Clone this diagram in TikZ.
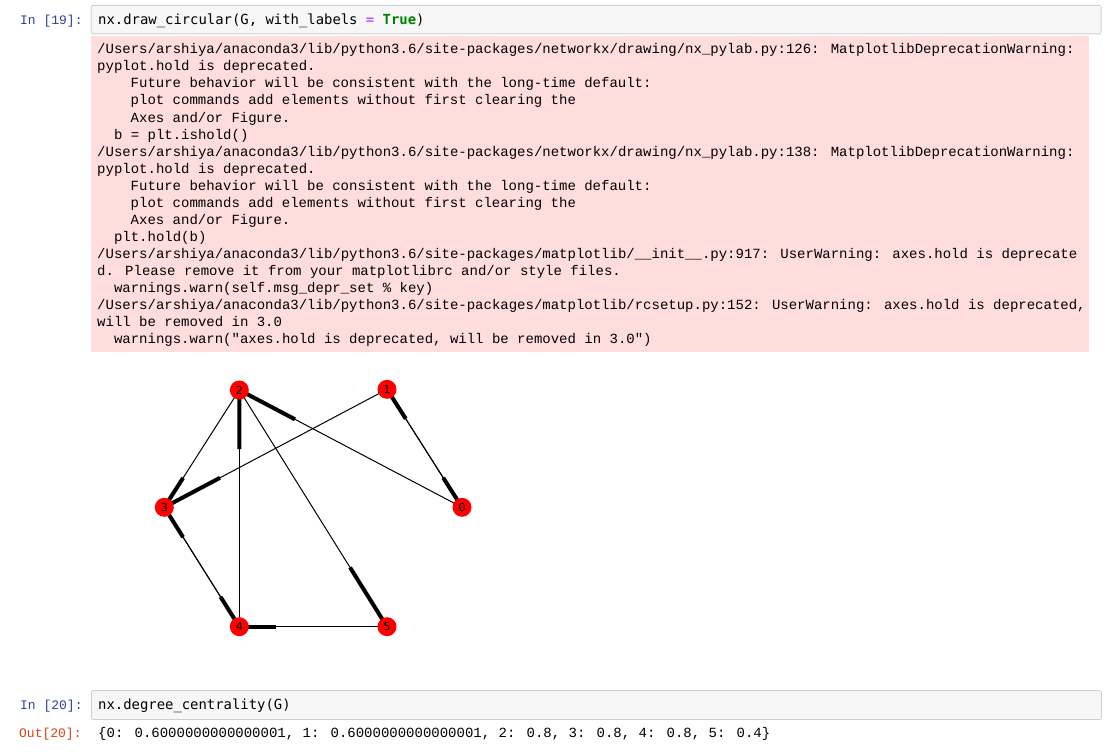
\documentclass[tikz,border=0pt]{standalone}
\usepackage{fontspec}
\newfontfamily\courfont{Liberation Mono}
\newfontfamily\codefont{DejaVu Sans Mono}
\newfontfamily\labfont{DejaVu Sans}
\usetikzlibrary{calc}
\pgfdeclarelayer{backdrop}
\pgfdeclarelayer{bg}
\pgfsetlayers{backdrop,bg,main}
\definecolor{errpink}{HTML}{FFDDDD}
\definecolor{cellfill}{HTML}{F7F7F7}
\definecolor{cellborder}{HTML}{CFCFCF}
\definecolor{inprompt}{HTML}{303F9F}
\definecolor{outprompt}{HTML}{D84315}
\definecolor{kwgreen}{HTML}{008000}
\definecolor{oppurple}{HTML}{AA22FF}
\definecolor{nodered}{HTML}{FF0000}
\tikzset{
  errline/.style={anchor=base west, inner sep=0, font=\courfont\fontsize{14bp}{17bp}\selectfont},
  inprm/.style={anchor=base west, inner sep=0, text=inprompt, font=\courfont\fontsize{13bp}{16bp}\selectfont},
  outprm/.style={anchor=base west, inner sep=0, text=outprompt, font=\courfont\fontsize{13bp}{16bp}\selectfont},
  codetext/.style={anchor=base west, inner sep=0, font=\codefont\fontsize{13.9bp}{17bp}\selectfont},
  cellbox/.style={draw=cellborder, fill=cellfill, line width=0.8bp, rounded corners=2bp, anchor=north west, inner sep=0},
  errbox/.style={fill=errpink, anchor=north west, inner sep=0},
  gnode/.style={circle, fill=nodered, inner sep=0, minimum size=19bp, font=\labfont\fontsize{11bp}{13bp}\selectfont},
  thinedge/.style={line width=1bp, black},
  headedge/.style={line width=4bp, black}
}
\begin{document}
\begin{tikzpicture}[x=1bp,y=-1bp]
\begin{pgfonlayer}{backdrop}
\fill[white] (0,0) rectangle (1119,755);
\end{pgfonlayer}
\useasboundingbox (0,0) rectangle (1119,755);

% cell 19
\node[inprm] (p19) at (20,25) {In [19]:};
\node[cellbox, minimum width=1010bp, minimum height=28.5bp] (in19) at (90.7,5) {};
\node[codetext] (code19) at (98,25) {nx.draw\_circular(G, with\_labels {\color{oppurple}=} {\color{kwgreen}\bfseries True})};

% stderr output
\node[errbox, minimum width=997.7bp, minimum height=316bp] (err) at (90.7,36) {};
\node[errline] (l1) at (97,54) {/Users/arshiya/anaconda3/lib/python3.6/site-packages/networkx/drawing/nx\_pylab.py:126: MatplotlibDeprecationWarning:};
\node[errline] (l2) at (97,71) {pyplot.hold is deprecated.};
\node[errline] (l3) at (130.5,88) {Future behavior will be consistent with the long-time default:};
\node[errline] (l4) at (130.5,105) {plot commands add elements without first clearing the};
\node[errline] (l5) at (130.5,122) {Axes and/or Figure.};
\node[errline] (l6) at (113.8,139) {b = plt.ishold()};
\node[errline] (l7) at (97,156) {/Users/arshiya/anaconda3/lib/python3.6/site-packages/networkx/drawing/nx\_pylab.py:138: MatplotlibDeprecationWarning:};
\node[errline] (l8) at (97,173) {pyplot.hold is deprecated.};
\node[errline] (l9) at (130.5,190) {Future behavior will be consistent with the long-time default:};
\node[errline] (l10) at (130.5,207) {plot commands add elements without first clearing the};
\node[errline] (l11) at (130.5,224) {Axes and/or Figure.};
\node[errline] (l12) at (113.8,241) {plt.hold(b)};
\node[errline] (l13) at (97,258) {/Users/arshiya/anaconda3/lib/python3.6/site-packages/matplotlib/\_\_init\_\_.py:917: UserWarning: axes.hold is deprecate};
\node[errline] (l14) at (97,275) {d. Please remove it from your matplotlibrc and/or style files.};
\node[errline] (l15) at (113.8,292) {warnings.warn(self.msg\_depr\_set \% key)};
\node[errline] (l16) at (97,309) {/Users/arshiya/anaconda3/lib/python3.6/site-packages/matplotlib/rcsetup.py:152: UserWarning: axes.hold is deprecated,};
\node[errline] (l17) at (97,326) {will be removed in 3.0};
\node[errline] (l18) at (113.8,343) {warnings.warn("axes.hold is deprecated, will be removed in 3.0")};

% graph
\node[gnode] (n0) at (462,507.3) {0};
\node[gnode] (n1) at (387,389.3) {1};
\node[gnode] (n2) at (239.3,390) {2};
\node[gnode] (n3) at (164.3,507.3) {3};
\node[gnode] (n4) at (239.3,626.7) {4};
\node[gnode] (n5) at (387,626.7) {5};
\begin{pgfonlayer}{bg}
\foreach \s/\t in {0/2,4/2,2/3,1/3,0/1,1/0,4/3,3/4,2/5,5/4} {
  \draw[thinedge] (n\s.center) -- (n\t.center);
  \draw[headedge] (n\t.center) -- ($(n\t.center)!0.25!(n\s.center)$);
}
\end{pgfonlayer}

% cell 20
\node[inprm] (p20) at (20,709.5) {In [20]:};
\node[cellbox, minimum width=1010bp, minimum height=29bp] (in20) at (91,690) {};
\node[codetext] (code20) at (98,709.5) {nx.degree\_centrality(G)};
\node[outprm] (o20) at (19,737.5) {Out[20]:};
\node[errline] (res20) at (98,737.5) {\{0: 0.6000000000000001, 1: 0.6000000000000001, 2: 0.8, 3: 0.8, 4: 0.8, 5: 0.4\}};
\end{tikzpicture}
\end{document}
